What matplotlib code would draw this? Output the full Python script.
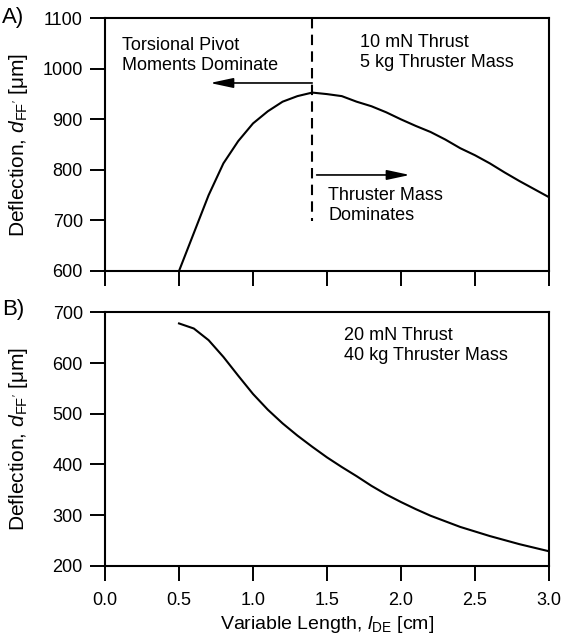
import numpy as np
import matplotlib
matplotlib.use("Agg")
import matplotlib.pyplot as plt

# Fonts (Helvetica look-alike)
plt.rcParams["font.family"] = ["Liberation Sans", "DejaVu Sans"]
plt.rcParams["mathtext.fontset"] = "custom"
plt.rcParams["mathtext.rm"] = "Liberation Sans"
plt.rcParams["mathtext.it"] = "Liberation Sans:italic"
plt.rcParams["font.size"] = 13

# Data
length_cm = [0.5, 0.6, 0.7, 0.8, 0.9, 1.0, 1.1, 1.2, 1.3, 1.4, 1.5, 1.6, 1.7,
             1.8, 1.9, 2.0, 2.1, 2.2, 2.3, 2.4, 2.5, 2.6, 2.7, 2.8, 2.9, 3.0]
defl_a = [600, 675, 750, 813, 857, 892, 916, 935, 946, 953, 950, 946, 935,
          926, 914, 900, 887, 875, 860, 843, 829, 813, 795, 778, 762, 746]
defl_b = [678, 668, 645, 612, 575, 539, 508, 481, 457, 435, 414, 395, 377,
          358, 341, 326, 312, 299, 288, 277, 268, 259, 251, 243, 236, 229]

xticks = [0.0, 0.5, 1.0, 1.5, 2.0, 2.5, 3.0]
yticks_a = [600, 700, 800, 900, 1000, 1100]
yticks_b = [200, 300, 400, 500, 600, 700]

ylabel = r"Deflection, $d_{\mathrm{FF'}}$ [$\mathrm{\mu}$m]"
xlabel = r"Variable Length, $l_{\mathrm{DE}}$ [cm]"

fig = plt.figure(figsize=(5.64, 6.42), dpi=100)
ax_a = fig.add_axes([0.1862, 0.5779, 0.7872, 0.3936])
ax_b = fig.add_axes([0.1862, 0.1184, 0.7872, 0.3952])

for ax in (ax_a, ax_b):
    ax.set_xlim(0, 3)
    ax.set_xticks(xticks)
    for s in ax.spines.values():
        s.set_linewidth(1.5)
    ax.tick_params(direction="out", length=11, width=1.4, pad=5,
                   top=False, right=False)
    ax.set_ylabel(ylabel, fontsize=15)
    ax.yaxis.set_label_coords(-0.168, 0.5)

# Panel A
ax_a.plot(length_cm, defl_a, color="black", lw=1.5)
ax_a.set_ylim(600, 1100)
ax_a.set_yticks(yticks_a)
ax_a.tick_params(axis="x", labelbottom=False)
ax_a.plot([1.4, 1.4], [1100, 698], color="black", lw=1.5, dashes=[5, 3])
ax_a.annotate("", xy=(0.71, 972), xytext=(1.4, 972),
              arrowprops=dict(arrowstyle="-|>,head_length=0.7,head_width=0.15",
                              color="black", lw=1.2, mutation_scale=20,
                              shrinkA=0, shrinkB=0))
ax_a.annotate("", xy=(2.06, 790), xytext=(1.43, 790),
              arrowprops=dict(arrowstyle="-|>,head_length=0.7,head_width=0.15",
                              color="black", lw=1.2, mutation_scale=20,
                              shrinkA=0, shrinkB=0))
ax_a.text(0.113, 1026, "Torsional Pivot\nMoments Dominate", ha="left", va="center",
          linespacing=1.25)
ax_a.text(1.726, 1032, "10 mN Thrust\n5 kg Thruster Mass", ha="left", va="center",
          linespacing=1.25)
ax_a.text(1.507, 729, "Thruster Mass\nDominates", ha="left", va="center",
          linespacing=1.25)

# Panel B
ax_b.plot(length_cm, defl_b, color="black", lw=1.5)
ax_b.set_ylim(200, 700)
ax_b.set_yticks(yticks_b)
ax_b.tick_params(axis="x", pad=8)
ax_b.set_xticklabels([f"{t:.1f}" for t in xticks])
ax_b.set_xlabel(xlabel, fontsize=14)
ax_b.xaxis.set_label_coords(0.5, -0.19)
ax_b.text(1.617, 634, "20 mN Thrust\n40 kg Thruster Mass", ha="left", va="center",
          linespacing=1.25)

fig.text(0.003, 0.972, "A)", fontsize=16, ha="left", va="center")
fig.text(0.003, 0.518, "B)", fontsize=16, ha="left", va="center")

fig.savefig("out.png", dpi=100)
